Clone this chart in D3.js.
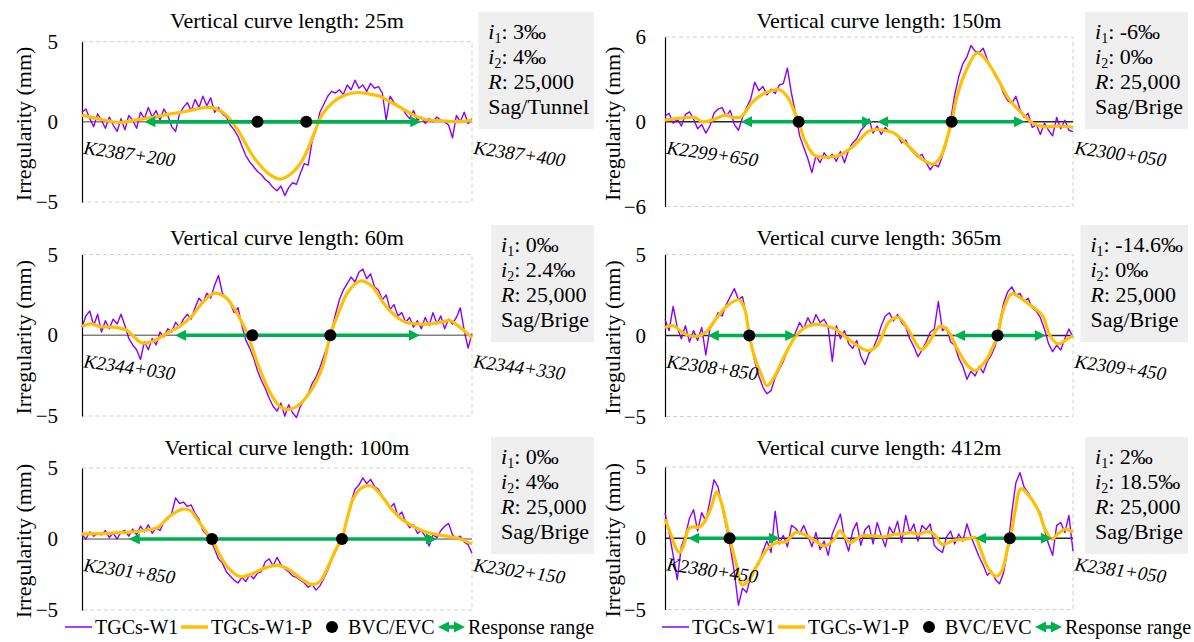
<!DOCTYPE html>
<html>
<head>
<meta charset="utf-8">
<script src="https://cdn.jsdelivr.net/npm/d3@7"></script>
<style>
  body { margin: 0; background: #fff; }
  svg { display: block; }
  text { font-family: "Liberation Serif", "Times New Roman", serif; fill: #000; }
</style>
</head>
<body>
<svg id="chart" width="1194" height="642"></svg>
<script>
// ---- panel metadata (order: TL, TR, ML, MR, BL, BR) ----
const panelTitles = [
  "Vertical curve length: 25m", "Vertical curve length: 150m",
  "Vertical curve length: 60m", "Vertical curve length: 365m",
  "Vertical curve length: 100m", "Vertical curve length: 412m"
];
const kmStart = ["K2387+200", "K2299+650", "K2344+030", "K2308+850", "K2301+850", "K2380+450"];
const kmEnd   = ["K2387+400", "K2300+050", "K2344+330", "K2309+450", "K2302+150", "K2381+050"];
const spanLengths = [200, 400, 300, 600, 300, 600];          // metres shown in each panel
const yLimits = [5, 6, 5, 5, 5, 5];
const yTickValues = [[-5, 0, 5], [-6, 0, 6], [-5, 0, 5], [-5, 0, 5], [-5, 0, 5], [-5, 0, 5]];
const gradeIn  = ["3‰", "-6‰", "0‰", "-14.6‰", "0‰", "2‰"];
const gradeOut = ["4‰", "0‰", "2.4‰", "0‰", "4‰", "18.5‰"];
const radiusText = ["25,000", "25,000", "25,000", "25,000", "25,000", "25,000"];
const siteType = ["Sag/Tunnel", "Sag/Brige", "Sag/Brige", "Sag/Brige", "Sag/Brige", "Sag/Brige"];

// BVC / EVC chainages (m from panel start)
const curvePoints = [[90, 115], [131, 281], [131, 191], [124, 489], [100, 200], [95, 507]];
// response ranges (m from panel start)
const responseRanges = [
  [[32, 174]],
  [[74.5, 204], [208, 353]],
  [[71.5, 260]],
  [[63, 193], [425, 560]],
  [[36, 273]],
  [[34, 169], [456, 569]]
];

// ---- TGCs-W1 measured series (sample spacing in metres per panel) ----
const sampleStep = [2, 4, 3, 6, 3, 6];
const w1Len25 = [
  0.6,0.8,0.2,-0.3,0.5,0.1,-0.4,0.3,-0.2,-0.6,
  0.2,-0.5,0.4,0.1,-0.4,0.6,0.2,0.9,0.3,0.7,
  0.1,0.8,0.4,-0.3,-0.6,0.5,0.9,1.2,0.7,1.4,
  0.9,1.6,1.0,1.5,0.6,0.9,0.5,0.3,-0.2,-0.5,
  -0.9,-1.5,-2.1,-2.5,-2.8,-3.1,-3.3,-3.6,-3.8,-4.1,
  -4.3,-4.0,-4.6,-4.1,-3.8,-3.9,-3.2,-2.6,-2.7,-1.2,
  -0.5,0.6,1.1,1.6,1.9,1.8,2.0,1.7,2.3,2.0,
  2.6,2.1,2.3,1.9,2.4,2.1,2.2,1.8,0.1,1.6,
  1.2,1.0,0.9,0.5,0.2,0.7,0.1,0.3,-0.1,0.2,
  0.0,0.3,0.1,0.0,-0.2,-1.0,0.4,0.0,0.6,-0.1,
  0.2
];
const w1Len150 = [
  0.4,0.6,-0.1,0.2,-0.3,0.5,0.7,0.2,-0.5,-0.2,
  -0.8,-0.3,0.6,0.9,1.0,0.4,0.8,-0.2,-0.6,0.3,
  1.0,1.6,2.8,2.2,2.5,1.9,2.3,2.0,2.6,2.7,
  3.8,2.0,0.6,-1.0,-1.8,-2.6,-3.6,-2.4,-2.9,-2.2,
  -2.6,-2.3,-2.8,-2.1,-2.9,-2.0,-1.5,-1.2,-0.6,-0.3,
  0.2,-0.8,-0.3,-0.9,-0.4,-0.7,-0.8,-1.0,-1.5,-1.3,
  -1.9,-2.2,-2.5,-2.3,-2.9,-3.4,-3.0,-3.2,-2.4,-1.5,
  0.1,1.9,3.2,4.1,4.6,5.4,5.0,4.9,5.2,4.4,
  3.8,3.2,2.8,2.0,1.5,1.3,1.8,0.9,0.3,0.6,
  -0.4,-0.2,-0.9,-0.1,-0.6,-1.0,0.3,-0.5,0.1,-0.6,
  -0.7
];
const w1Len60 = [
  0.5,1.2,1.5,0.6,1.3,0.2,0.9,0.4,1.0,0.7,
  1.3,0.6,-0.2,-0.6,-0.9,-1.5,-0.4,-0.9,-0.2,-0.6,
  0.2,-0.1,0.4,0.2,0.8,0.5,1.0,1.3,1.0,1.7,
  2.3,2.0,2.6,2.3,3.1,3.7,2.6,2.3,2.0,1.4,
  1.7,0.6,-0.3,-0.8,-1.4,-2.2,-2.8,-3.3,-3.9,-4.4,
  -4.7,-4.2,-5.0,-4.3,-4.8,-5.1,-4.4,-4.0,-3.6,-3.0,
  -2.6,-2.0,-1.3,-0.6,0.3,1.3,2.2,2.8,3.2,3.6,
  3.3,3.9,4.1,3.5,3.8,3.0,2.8,2.2,2.5,1.6,
  1.9,1.2,1.4,0.8,1.1,0.5,0.9,0.4,1.1,0.6,
  1.4,0.7,1.2,0.4,1.0,0.7,1.1,1.7,0.3,-0.8,
  0.1
];
const w1Len365 = [
  1.0,0.3,1.8,0.5,-0.2,0.6,-0.4,0.3,-0.3,0.5,
  -1.2,0.4,0.8,1.4,1.2,1.9,2.4,2.9,2.2,2.4,
  1.1,-0.3,-1.6,-2.5,-3.2,-3.6,-3.4,-2.6,-2.1,-1.6,
  -0.9,-0.5,0.2,0.8,0.4,1.1,0.6,1.3,0.8,1.0,
  0.5,-1.6,0.6,-0.2,0.3,-0.5,-0.8,-0.3,-1.3,-1.8,
  -1.1,-0.8,-0.2,0.6,1.2,1.4,0.9,1.3,0.8,0.5,
  -0.2,-0.7,-1.3,-0.9,-0.4,0.2,0.4,2.1,0.3,0.5,
  -0.4,-0.6,-1.4,-1.9,-2.7,-2.2,-2.5,-1.9,-2.3,-1.6,
  -1.2,-0.6,0.8,2.0,2.7,3.0,2.5,2.6,2.1,2.3,
  1.7,1.5,1.1,0.4,-0.5,-1.0,-0.6,-0.9,-0.2,0.4,
  -0.1
];
const w1Len100 = [
  0.3,0.0,0.5,0.2,0.4,0.3,0.6,0.1,0.4,0.0,
  0.5,0.6,0.2,0.7,0.3,0.9,0.5,1.0,0.4,0.8,
  0.6,1.2,1.4,1.8,2.9,2.5,2.6,2.3,2.4,1.8,
  1.4,0.6,0.3,-0.1,-0.7,-1.4,-1.7,-2.3,-2.6,-2.9,
  -3.1,-2.7,-3.0,-2.5,-2.8,-2.4,-2.3,-1.6,-1.4,-1.9,
  -1.3,-1.8,-2.1,-2.3,-2.6,-2.7,-2.9,-3.1,-3.4,-3.2,
  -3.6,-3.3,-2.8,-2.2,-1.5,-0.9,-0.3,0.4,1.5,2.6,
  3.5,3.8,4.3,3.9,4.2,3.7,3.5,3.0,2.7,2.2,
  2.5,1.6,1.9,1.2,0.8,1.0,0.4,0.6,0.2,-0.5,
  0.3,0.1,0.6,0.9,1.1,0.3,0.0,0.2,-0.2,-0.4,
  -1.0
];
const w1Len412 = [
  1.8,0.4,-1.2,-2.9,-0.6,0.2,1.4,2.0,0.5,1.8,
  1.2,2.6,4.1,3.6,2.2,0.8,-0.6,-2.4,-4.7,-3.5,
  -3.8,-2.7,-2.1,-1.8,-0.9,-0.2,-1.0,1.9,-0.4,0.2,
  -0.6,0.9,0.7,0.3,0.9,0.2,-0.6,0.4,-0.8,-0.2,
  -1.2,0.3,1.0,1.7,0.0,-0.9,0.5,1.1,-0.5,0.6,
  0.9,-0.4,1.1,0.2,-0.6,0.8,0.3,1.2,-0.3,1.6,
  0.4,1.0,-0.2,0.9,0.6,1.0,-0.5,-0.8,-1.0,0.1,
  0.5,-0.4,0.3,-0.2,1.0,0.1,-0.6,-1.3,-1.9,-2.6,
  -2.3,-2.9,-3.2,-2.4,-0.8,1.8,3.9,4.6,3.6,3.2,
  2.7,2.2,1.8,0.6,-0.4,-1.2,0.9,1.1,0.4,1.6,
  -0.9
];
const measuredSeries = [w1Len25, w1Len150, w1Len60, w1Len365, w1Len100, w1Len412];

// ---- TGCs-W1-P smoothed series (chainage m, value mm) ----
const pX25 = [0,10,19,28,37,45,52.5,58,64,68,74,80,88,96,101.6,107,113,119,123,129,135,141,147,153,158,164,170,176,184,194,200];
const pY25 = [0.42,0.15,-0.04,0.12,0.3,0.48,0.63,0.78,0.9,0.84,0.42,-0.53,-2.2,-3.26,-3.58,-3.26,-2.4,-0.74,0.42,1.26,1.68,1.83,1.75,1.58,1.26,0.84,0.42,0.15,0.06,0.02,0.1];
const pX150 = [0,15,29,37,48,59,67,74.5,86,97,105,112,120,127,131,137,146,154,161,172,184,192,199,207,214,225,236,244,251,258,263,270,276,281,287,297,306,315,321,327,338,350,361,372,387,400];
const pY150 = [0.12,0.25,0.3,0.0,0.16,0.47,0.3,0.35,1.4,2.0,2.2,2.28,1.76,0.7,0,-1.3,-2.35,-2.5,-2.5,-2.35,-1.76,-1.2,-0.7,-0.55,-0.6,-0.82,-1.53,-2.1,-2.6,-2.9,-3.0,-2.5,-1.3,0,2.0,3.9,4.87,4.35,3.7,2.94,1.53,0.59,-0.12,-0.35,-0.3,-0.4];
const pX60 = [0,7,14,26,35,40,46,55,64,76,85,93.5,102,111,117,123,127.6,135,144,152,158,167,176,185,191,196.5,205,214,223,232,240.6,249,258,267,276,283,290.6,300];
const pY60 = [0.55,0.7,0.53,0.49,0.28,-0.1,-0.47,-0.36,0.06,0.6,1.23,2.1,2.6,2.3,1.66,0.8,0,-1.74,-3.45,-4.4,-4.6,-4.3,-3.45,-1.96,0,1.23,2.72,3.36,3.04,1.98,1.23,0.8,0.7,0.7,0.8,0.91,0.49,-0.15];
const pX365 = [0,12,29,46,60,75,92,109,117,124,131,142,150,159,176,193,210,227,250,272,298,312,329,343,357,377,388,405,416,431,445,456,470,481,489,498,510,521,538,555,566,578,589,600];
const pY365 = [0.5,0.6,0.1,-0.06,0.2,1.03,1.85,2.2,1.65,0,-1.24,-2.47,-3.1,-2.68,-1.24,0,0.58,0.68,0.41,-0.3,-0.93,-0.62,0.82,1.13,0.41,-0.87,-0.41,0.58,0.3,-0.93,-1.85,-2.16,-1.65,-0.82,0,1.65,2.58,2.37,1.85,1.24,0,-0.52,-0.3,0];
const pX100 = [0,19,36.6,48,58.5,67,77.5,83.4,89,96.6,100,105,112.7,121.5,130,142,150.7,159.5,168,177,183,190,196,200,203,209,215,222.4,229.7,238.5,247,256,265,273.6,282,291,300];
const pY100 = [0.36,0.4,0.48,0.6,0.84,1.57,2.1,2.0,1.33,0.36,0,-0.96,-2.05,-2.65,-2.48,-2.0,-1.86,-2.17,-2.77,-3.2,-3.0,-1.8,-0.6,0,1.08,2.9,3.6,3.73,3.13,2.05,1.33,0.84,0.48,0.31,0.17,0,-0.36];
const pX412 = [0,8.5,17,21.5,28,33,37,42,48,54,59,68,76,82,90.5,95,105,113,122,136,150,164,178,192,204,221,235,249,257.5,272,289,306,323,337,351,362,374,385,396,407.5,424.5,441.5,456,464,475,487,495,504,508,515,523.5,535,549,560,569,577,589,600];
const pY412 = [1.35,0.28,-0.78,-1.0,-0.43,0.5,0.76,0.8,0.76,0.9,1.23,2.18,3.25,2.65,1.0,0,-1.85,-3.27,-3.03,-1.85,-0.78,-0.3,-0.24,0.4,0.28,-0.19,-0.55,-0.07,0.52,-0.3,0.17,0.17,0.1,0.28,0.33,0.4,0.28,0.47,0.28,-0.43,-0.14,-0.07,0.05,-0.78,-2.08,-2.68,-2.32,-0.66,0,1.94,3.48,3.0,1.94,0.52,-0.07,0.28,0.64,0.4];
const smoothX = [pX25, pX150, pX60, pX365, pX100, pX412];
const smoothY = [pY25, pY150, pY60, pY365, pY100, pY412];

// ---- legend entries ----
const legendLabels = ["TGCs-W1", "TGCs-W1-P", "BVC/EVC", "Response range"];

// ---- styling ----
const COLOR_W1 = "#8a00ff";
const COLOR_P = "#ffc000";
const COLOR_RANGE = "#00b050";
const COLOR_DOT = "#000";

// plot frames for the 3 x 2 grid
const frames = [
  { left: 82,  right: 472,  top: 41.7,  bottom: 202 },
  { left: 665, right: 1073, top: 37,    bottom: 206.5 },
  { left: 82,  right: 472,  top: 254.5, bottom: 416 },
  { left: 665, right: 1073, top: 254.5, bottom: 416.5 },
  { left: 82,  right: 472,  top: 468,   bottom: 610 },
  { left: 665, right: 1073, top: 467,   bottom: 609.5 }
];
const rowTitleBase = [28, 245, 455];
const rowBoxTop = [12, 225, 437];
const colStyle = [
  { tickPad: 24, yTitleX: 23,  boxRight: 594,  zero: "#808080" },
  { tickPad: 19, yTitleX: 612, boxRight: 1188, zero: "#262626" }
];

const svg = d3.select("#chart");

function drawDoubleArrow(g, x1, x2, y) {
  const hl = 11, hw = 5.5;
  g.append("line")
    .attr("x1", x1 + hl - 1).attr("x2", x2 - hl + 1)
    .attr("y1", y).attr("y2", y)
    .attr("stroke", COLOR_RANGE).attr("stroke-width", 3.6);
  g.append("path")
    .attr("d", `M${x1},${y}L${x1 + hl},${y - hw}L${x1 + hl},${y + hw}Z`)
    .attr("fill", COLOR_RANGE);
  g.append("path")
    .attr("d", `M${x2},${y}L${x2 - hl},${y - hw}L${x2 - hl},${y + hw}Z`)
    .attr("fill", COLOR_RANGE);
}

const fmtTick = d => d < 0 ? "\u2212" + Math.abs(d) : String(d);

panelTitles.forEach((title, i) => {
  const f = frames[i];
  const row = Math.floor(i / 2), col = i % 2;
  const cs = colStyle[col];
  const g = svg.append("g");

  const x = d3.scaleLinear().domain([0, spanLengths[i]]).range([f.left, f.right]);
  const y = d3.scaleLinear().domain([-yLimits[i], yLimits[i]]).range([f.bottom, f.top]);

  // dashed frame (top, right, bottom)
  g.append("path")
    .attr("d", `M${f.left},${f.top}H${f.right}V${f.bottom}H${f.left}`)
    .attr("fill", "none").attr("stroke", "#d0d0d0")
    .attr("stroke-width", 1).attr("stroke-dasharray", "4,3");

  // zero reference line
  g.append("line")
    .attr("x1", x(0)).attr("x2", x(spanLengths[i]))
    .attr("y1", y(0)).attr("y2", y(0))
    .attr("stroke", cs.zero).attr("stroke-width", 1.5);

  // y axis
  const axis = d3.axisLeft(y).tickValues(yTickValues[i]).tickSize(0).tickSizeOuter(0)
    .tickPadding(cs.tickPad).tickFormat(fmtTick);
  const ag = g.append("g").attr("transform", `translate(${f.left},0)`).call(axis);
  ag.select(".domain").attr("stroke", "#000").attr("stroke-width", 1.2);
  ag.selectAll("text").attr("font-size", 21)
    .attr("font-family", "'Liberation Serif','Times New Roman',serif").attr("fill", "#000");

  // y axis title
  g.append("text")
    .attr("transform", `translate(${cs.yTitleX},${(f.top + f.bottom) / 2 + 2}) rotate(-90)`)
    .attr("text-anchor", "middle").attr("dominant-baseline", "central")
    .attr("font-size", 22).text("Irregularity (mm)");

  // panel title
  g.append("text")
    .attr("x", (f.left + f.right) / 2 + 10).attr("y", rowTitleBase[row])
    .attr("text-anchor", "middle").attr("font-size", 22).text(title);

  // measured series
  const step = sampleStep[i];
  const line = d3.line().x((d, k) => x(k * step)).y(d => y(d));
  g.append("path").datum(measuredSeries[i])
    .attr("d", line).attr("fill", "none")
    .attr("stroke", COLOR_W1).attr("stroke-width", 1.4).attr("stroke-linejoin", "round");

  // smoothed series
  const pts = smoothX[i].map((m, k) => [m, smoothY[i][k]]);
  const sline = d3.line().x(d => x(d[0])).y(d => y(d[1])).curve(d3.curveCatmullRom.alpha(0.5));
  g.append("path").datum(pts)
    .attr("d", sline).attr("fill", "none")
    .attr("stroke", COLOR_P).attr("stroke-width", 3.2).attr("stroke-linejoin", "round");

  // response ranges
  responseRanges[i].forEach(r => drawDoubleArrow(g, x(r[0]), x(r[1]), y(0)));

  // BVC / EVC points
  g.selectAll("circle.pt").data(curvePoints[i]).enter().append("circle")
    .attr("cx", d => x(d)).attr("cy", y(0)).attr("r", 6).attr("fill", COLOR_DOT);

  // chainage labels
  [[kmStart[i], 0], [kmEnd[i], spanLengths[i]]].forEach(([label, m]) => {
    g.append("text")
      .attr("transform", `translate(${x(m) + 1},${y(0) + 32}) rotate(8)`)
      .attr("font-size", 19).attr("font-style", "italic").text(label);
  });

  // info box
  const box = g.append("g");
  const rect = box.append("rect").attr("fill", "#efefef");
  const tg = box.append("g");
  const lineGap = 25.2;
  const t1 = tg.append("text").attr("font-size", 22).attr("y", 0);
  t1.append("tspan").attr("font-style", "italic").text("i");
  t1.append("tspan").attr("font-size", 14).attr("dy", 4).text("1");
  t1.append("tspan").attr("dy", -4).text(": " + gradeIn[i]);
  const t2 = tg.append("text").attr("font-size", 22).attr("y", lineGap);
  t2.append("tspan").attr("font-style", "italic").text("i");
  t2.append("tspan").attr("font-size", 14).attr("dy", 4).text("2");
  t2.append("tspan").attr("dy", -4).text(": " + gradeOut[i]);
  const t3 = tg.append("text").attr("font-size", 22).attr("y", lineGap * 2);
  t3.append("tspan").attr("font-style", "italic").text("R");
  t3.append("tspan").text(": " + radiusText[i]);
  tg.append("text").attr("font-size", 22).attr("y", lineGap * 3).text(siteType[i]);
  const bb = tg.node().getBBox();
  const bw = bb.width + 14;
  const bx = cs.boxRight - bw;
  const by = rowBoxTop[row];
  rect.attr("x", bx).attr("y", by).attr("width", bw).attr("height", 117);
  tg.attr("transform", `translate(${bx + 10},${by + 26.5})`);
});

// ---- legends (one under each column) ----
[0, 597].forEach(off => {
  const g = svg.append("g").attr("transform", `translate(${off},0)`);
  const ly = 627;
  g.append("line").attr("x1", 65).attr("x2", 92).attr("y1", ly).attr("y2", ly)
    .attr("stroke", COLOR_W1).attr("stroke-width", 1.5);
  g.append("text").attr("x", 95).attr("y", ly + 7).attr("font-size", 20).text(legendLabels[0]);
  g.append("line").attr("x1", 181).attr("x2", 208).attr("y1", ly).attr("y2", ly)
    .attr("stroke", COLOR_P).attr("stroke-width", 3.5);
  g.append("text").attr("x", 211).attr("y", ly + 7).attr("font-size", 20).text(legendLabels[1]);
  g.append("circle").attr("cx", 332).attr("cy", ly).attr("r", 6).attr("fill", COLOR_DOT);
  g.append("text").attr("x", 348).attr("y", ly + 7).attr("font-size", 20).text(legendLabels[2]);
  drawDoubleArrow(g, 438, 465, ly);
  g.append("text").attr("x", 468).attr("y", ly + 7).attr("font-size", 20).text(legendLabels[3]);
});
</script>
</body>
</html>
